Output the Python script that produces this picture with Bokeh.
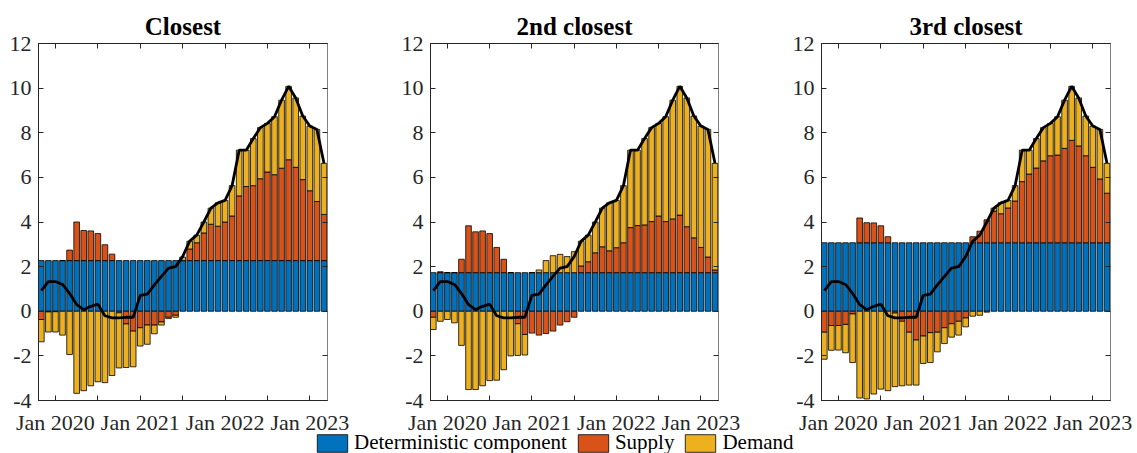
import numpy as np
from bokeh.plotting import figure
from bokeh.models import Range1d, FixedTicker, LinearAxis, Legend, LegendItem
from bokeh.layouts import column, row
from bokeh.embed import file_html
from bokeh.resources import INLINE

# Months: Nov 2019 ... Mar 2023 (index 0..40)
months = list(range(41))
x_ticks = [2, 8, 14, 20, 26, 32, 38]
x_tick_labels = ["Jan 2020", "", "Jan 2021", "", "Jan 2022", "", "Jan 2023"]
y_ticks = [-4, -2, 0, 2, 4, 6, 8, 10, 12]
y_tick_labels = ["-4", "-2", "0", "2", "4", "6", "8", "10", "12"]

titles = ["Closest", "2nd closest", "3rd closest"]
series_names = ["Deterministic component", "Supply", "Demand"]
colors = ["#0072BD", "#D95319", "#EDB120"]

inflation = [0.92, 1.33, 1.33, 1.20, 0.80, 0.30, 0.07, 0.22, 0.32, -0.20,
             -0.30, -0.30, -0.27, -0.27, 0.71, 0.77, 1.18, 1.56, 1.93, 2.00,
             2.45, 3.14, 3.41, 4.00, 4.62, 4.86, 4.97, 5.63, 7.22, 7.22,
             7.74, 8.23, 8.42, 8.72, 9.46, 10.08, 9.56, 8.75, 8.30, 8.15, 6.63]

det_closest = 2.27
supply_closest = [-0.37, -0.03, -0.02, 0.00, 0.47, 1.73, 1.35, 1.33, 1.21, 0.71,
                  0.29, -0.07, -0.57, -0.89, -0.74, -0.62, -0.62, -0.48, -0.27, -0.18,
                  0.00, 0.52, 0.80, 1.24, 1.63, 1.54, 1.73, 2.00, 2.90, 3.32,
                  3.36, 3.67, 3.97, 3.85, 4.14, 4.52, 4.18, 3.63, 3.13, 2.65, 2.07]
demand_closest = [-1.00, -0.90, -0.91, -1.07, -1.94, -3.68, -3.56, -3.34, -3.16, -3.20,
                  -2.88, -2.47, -1.95, -1.60, -0.82, -0.86, -0.39, -0.14, -0.06, -0.09,
                  0.16, 0.35, 0.34, 0.49, 0.72, 1.05, 0.97, 1.36, 2.05, 1.63,
                  2.11, 2.29, 2.18, 2.60, 3.05, 3.29, 3.11, 2.85, 2.90, 3.23, 2.29]

det_2nd = 1.73
supply_2nd = [-0.27, 0.04, 0.00, 0.00, 0.60, 2.10, 1.83, 1.87, 1.75, 1.13,
              0.60, 0.00, -0.56, -1.04, -0.98, -1.07, -1.00, -0.89, -0.62, -0.47,
              -0.27, 0.30, 0.49, 0.89, 1.16, 0.98, 1.12, 1.34, 2.02, 2.11,
              2.14, 2.29, 2.54, 2.29, 2.41, 2.58, 2.06, 1.56, 1.13, 0.70, 0.12]
demand_2nd = [-0.55, -0.45, -0.37, -0.52, -1.53, -3.51, -3.51, -3.34, -3.11, -3.09,
              -2.62, -2.00, -1.42, -0.92, 0.00, 0.12, 0.54, 0.76, 0.82, 0.72,
              0.94, 1.11, 1.19, 1.38, 1.73, 2.15, 2.12, 2.56, 3.47, 3.38,
              3.87, 4.21, 4.15, 4.70, 5.32, 5.77, 5.77, 5.46, 5.44, 5.72, 4.78]

det_3rd = 3.07
supply_3rd = [-0.94, -0.64, -0.64, -0.59, -0.12, 1.11, 0.90, 0.89, 0.76, 0.27,
              -0.08, -0.45, -0.94, -1.29, -1.11, -0.96, -0.94, -0.74, -0.56, -0.45,
              -0.30, 0.27, 0.52, 1.03, 1.42, 1.30, 1.56, 1.87, 2.74, 3.08,
              3.35, 3.67, 3.90, 3.93, 4.23, 4.59, 4.34, 3.90, 3.38, 2.86, 2.22]
demand_3rd = [-1.21, -1.11, -1.10, -1.27, -2.18, -3.89, -3.93, -3.71, -3.49, -3.56,
              -3.30, -2.89, -2.37, -2.02, -1.23, -1.34, -0.88, -0.71, -0.60, -0.62,
              -0.40, -0.22, -0.18, -0.04, 0.13, 0.49, 0.34, 0.69, 1.41, 1.07,
              1.32, 1.49, 1.45, 1.72, 2.16, 2.42, 2.15, 1.78, 1.85, 2.22, 1.34]

FONT = "Liberation Serif"
AX_COLOR = "#262626"


def stack(series_list):
    n = len(months)
    pos = np.zeros(n)
    neg = np.zeros(n)
    out = []
    for s in series_list:
        s = np.asarray(s, dtype=float)
        bottom = np.where(s >= 0, pos, neg)
        top = bottom + s
        pos = np.where(s >= 0, top, pos)
        neg = np.where(s < 0, top, neg)
        out.append((bottom, top))
    return out


def style_axis(ax, ticks, labels=None):
    ax.ticker = FixedTicker(ticks=ticks)
    ax.major_tick_in = 5
    ax.major_tick_out = 0
    ax.minor_tick_line_color = None
    ax.axis_line_color = AX_COLOR
    ax.major_tick_line_color = AX_COLOR
    ax.major_label_text_font = FONT
    ax.major_label_text_color = AX_COLOR
    if labels is not None:
        ax.major_label_overrides = {t: l for t, l in zip(ticks, labels)}
        ax.major_label_text_font_size = "22px"
    else:
        ax.major_label_overrides = {t: "" for t in ticks}
        ax.major_label_text_font_size = "1px"
        ax.major_label_standoff = 0


def make_panel(title, det, supply, demand, width, left, right):
    p = figure(width=width, height=437, output_backend="svg", toolbar_location=None,
               x_range=Range1d(-0.4, 40.5), y_range=Range1d(-4, 12),
               min_border_left=left, min_border_right=right,
               min_border_top=43, min_border_bottom=34)
    p.grid.visible = False
    p.outline_line_color = AX_COLOR
    p.background_fill_color = "white"
    p.border_fill_color = "white"

    det_series = np.full(len(months), det)
    stacks = stack([det_series, supply, demand])
    for (b, t), c in zip(stacks, colors):
        p.vbar(x=months, bottom=b, top=t, width=0.8, fill_color=c,
               line_color="black", line_width=0.8)
    p.line(months, inflation, line_color="black", line_width=2.8)

    p.title.text = title
    p.title.align = "center"
    p.title.text_font = FONT
    p.title.text_font_style = "bold"
    p.title.text_font_size = "25px"
    p.title.text_color = "black"
    p.title.standoff = 8

    xa = p.xaxis[0]
    style_axis(xa, x_ticks, x_tick_labels)
    xa.major_label_standoff = 9

    ya = p.yaxis[0]
    style_axis(ya, y_ticks, y_tick_labels)
    ya.major_label_standoff = 7

    top_ax = LinearAxis()
    style_axis(top_ax, x_ticks)
    p.add_layout(top_ax, "above")

    right_ax = LinearAxis()
    style_axis(right_ax, y_ticks)
    right_ax.axis_line_color = "#808080"
    p.add_layout(right_ax, "right")
    return p


p1 = make_panel(titles[0], det_closest, supply_closest, demand_closest, 380, 38, 53)
p2 = make_panel(titles[1], det_2nd, supply_2nd, demand_2nd, 391, 50, 53)
p3 = make_panel(titles[2], det_3rd, supply_3rd, demand_3rd, 366, 50, 27)

# legend strip (overlaps the bottom of the panel row slightly, transparent)
lg = figure(width=1137, height=23, output_backend="svg", toolbar_location=None,
            x_range=Range1d(0, 1), y_range=Range1d(0, 1),
            min_border=0, x_axis_location=None, y_axis_location=None,
            margin=(-7, 0, 0, 0))
lg.grid.visible = False
lg.outline_line_color = None
lg.background_fill_alpha = 0
lg.border_fill_alpha = 0
items = []
for name, c in zip(series_names, colors):
    r = lg.vbar(x=[-5], bottom=[0], top=[0], width=0.1, fill_color=c,
                line_color="black", line_width=0.8)
    items.append(LegendItem(label=name, renderers=[r]))
legend = Legend(items=items, orientation="horizontal", location=(313, -2),
                glyph_width=38, glyph_height=22, label_height=22,
                label_standoff=3, spacing=7, padding=0, margin=0,
                label_text_font=FONT, label_text_font_size="21px",
                label_text_color="black",
                background_fill_alpha=0, border_line_alpha=0)
lg.add_layout(legend, "center")

layout = column(row(p1, p2, p3), lg)
open("out.html", "w").write(file_html(layout, INLINE))
